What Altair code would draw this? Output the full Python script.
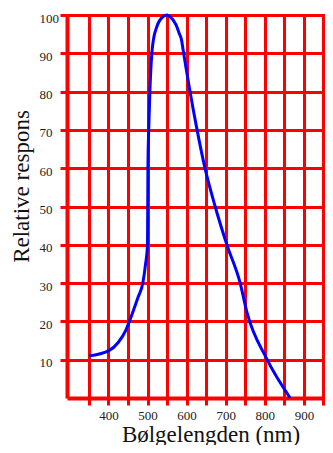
import altair as alt
import pandas as pd

# Curve
wavelength = [350, 400, 425, 445, 455, 476, 488, 495, 500, 501, 503, 506, 511, 515,
              524, 540, 550, 557, 573, 581, 587, 591, 598, 608, 626, 647, 673, 703,
              737, 754, 804, 865]
response = [11, 12.3, 14.5, 17.8, 20.4, 26.4, 30, 35, 40, 60, 70, 80, 90, 93.5,
            97, 99.6, 100, 99.6, 97.4, 95.2, 93.5, 90.9, 86.5, 80.4, 70.4, 60, 50,
            40, 30, 22.5, 10.4, 0]

x_grid = [350, 400, 450, 500, 550, 600, 650, 700, 750, 800, 850, 900, 950]
x_labels = [400, 500, 600, 700, 800, 900]
y_grid = [10, 20, 30, 40, 50, 60, 70, 80, 90, 100]

df = pd.DataFrame({"nm": wavelength, "resp": response})

label_test = " || ".join(f"datum.value == {v}" for v in x_labels)

FONT = "Liberation Serif"
RED = "#ff0000"

line = alt.Chart(df).mark_line(
    color="#0000ff", strokeWidth=3, interpolate="monotone"
).encode(
    x=alt.X(
        "nm:Q",
        scale=alt.Scale(domain=[294, 954], nice=False, zero=False),
        axis=alt.Axis(
            values=x_grid,
            title="Bølgelengden (nm)",
            labelExpr=f"({label_test}) ? datum.label : ''",
            labelFont=FONT,
            labelFontSize=13,
            tickSize=7,
            labelPadding=14,
            labelBaseline="alphabetic",
            titleFont=FONT,
            titleX=143.5,
            titleY=43,
            titleBaseline="alphabetic",
            titleAlign="center",
        ),
    ),
    y=alt.Y(
        "resp:Q",
        scale=alt.Scale(domain=[0, 100], nice=False),
        axis=alt.Axis(
            values=y_grid,
            title="Relative respons",
            labelFont=FONT,
            labelFontSize=13,
            tickSize=7,
            labelPadding=21,
            labelAlign="left",
            labelBaseline="middle",
            labelOffset=3,
            titleFont=FONT,
            titleAngle=270,
            titleX=-39,
            titleY=171,
            titleBaseline="alphabetic",
            titleAlign="center",
        ),
    ),
)

chart = line.properties(
    width=258,
    height=383,
    padding={"left": 59, "top": 7, "right": 0, "bottom": 47},
    autosize=alt.AutoSizeParams(type="none"),
).configure_view(stroke=None).configure_axis(
    grid=True,
    gridColor=RED,
    gridWidth=3,
    gridOpacity=1,
    domainColor=RED,
    domainWidth=4,
    tickColor=RED,
    tickWidth=3,
    labelFont=FONT,
    labelFontSize=13,
    labelColor="#222222",
    titleFont=FONT,
    titleFontSize=23,
    titleFontWeight="normal",
    titleColor="#111111",
)

chart.save("out.html", embed_options={"renderer": "svg", "actions": False})
